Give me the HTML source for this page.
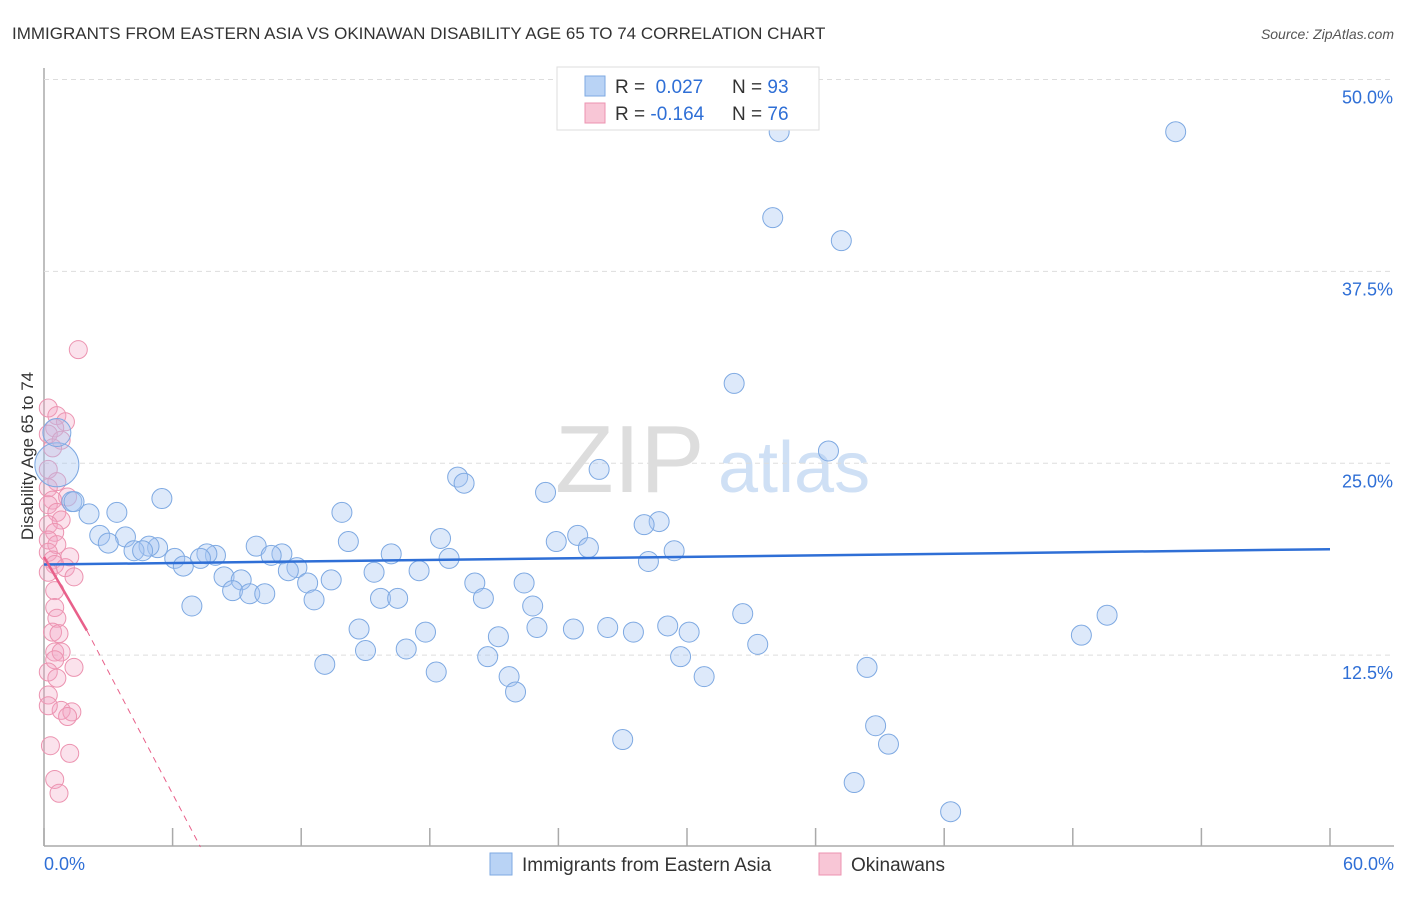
<!DOCTYPE html>
<html><head><meta charset="utf-8"><style>
body{margin:0;background:#fff;font-family:"Liberation Sans",sans-serif;}
svg text{font-family:"Liberation Sans",sans-serif;}
</style></head><body>
<svg id="c" width="1406" height="892" xmlns="http://www.w3.org/2000/svg">
<text x="12" y="39" font-size="17" fill="#333">IMMIGRANTS FROM EASTERN ASIA VS OKINAWAN DISABILITY AGE 65 TO 74 CORRELATION CHART</text>
<text x="1394" y="39" font-size="14" fill="#555" font-style="italic" text-anchor="end">Source: ZipAtlas.com</text>
<text transform="translate(33,456) rotate(-90)" font-size="17" fill="#333" text-anchor="middle">Disability Age 65 to 74</text>
<g><text x="555" y="492" font-size="96" font-family="Liberation Serif,serif" fill="#ddd">ZIP</text><text x="718" y="492" font-size="72" fill="#cfe0f5">atlas</text></g>
<g id="grid"></g><g id="pts"></g><g id="lines"></g>
<g>
<rect x="557" y="67" width="262" height="63" fill="#fff" stroke="#ddd"/>
<rect x="585" y="76" width="20" height="20" fill="#b9d3f5" stroke="#7ea9e2"/>
<rect x="585" y="103" width="20" height="20" fill="#f8c6d6" stroke="#ec93b0"/>
<text x="615" y="93" font-size="19" fill="#333">R = <tspan fill="#2f6fd6">&#160;0.027</tspan><tspan x="732">N = </tspan><tspan fill="#2f6fd6">93</tspan></text>
<text x="615" y="120" font-size="19" fill="#333">R = <tspan fill="#2f6fd6">-0.164</tspan><tspan x="732">N = </tspan><tspan fill="#2f6fd6">76</tspan></text>
</g>
<g>
<rect x="490" y="853" width="22" height="22" fill="#b9d3f5" stroke="#7ea9e2"/>
<text x="522" y="871" font-size="19" fill="#333">Immigrants from Eastern Asia</text>
<rect x="819" y="853" width="22" height="22" fill="#f8c6d6" stroke="#ec93b0"/>
<text x="851" y="871" font-size="19" fill="#333">Okinawans</text>
</g>
<text x="44" y="870" font-size="18" fill="#2f6fd6">0.0%</text>
<text x="1394" y="870" font-size="18" fill="#2f6fd6" text-anchor="end">60.0%</text>
</svg>
<script>
const yTicks=[12.5,25,37.5,50];
const yTickLabels=["12.5%","25.0%","37.5%","50.0%"];
const xTicks=[0,6,12,18,24,30,36,42,48,54,60];
const blueX=[34.3,52.8,34.0,37.2,32.2,36.6,25.9,19.3,19.6,23.4,5.5,1.3,3.4,2.1,13.9,28.7,28.0,2.6,3.8,24.9,18.5,3.0,23.9,14.2,25.4,5.3,4.9,4.2,4.6,9.9,11.1,10.6,16.2,8.0,7.6,7.3,6.1,29.4,18.9,28.2,6.5,11.8,11.4,17.5,8.4,15.4,9.2,13.4,12.3,20.1,22.4,8.8,9.6,10.3,15.7,16.5,20.5,12.6,6.9,22.8,32.6,49.6,14.7,23.0,24.7,26.3,29.1,27.5,17.8,30.1,21.2,48.4,33.3,16.9,15.0,20.7,29.7,13.1,38.4,18.3,21.7,30.8,22.0,38.8,27.0,39.4,37.8,42.3,0.6,0.6,1.4];
const blueY=[46.6,46.6,41.0,39.5,30.2,25.8,24.6,24.1,23.7,23.1,22.7,22.5,21.8,21.7,21.8,21.2,21.0,20.3,20.2,20.3,20.1,19.8,19.9,19.9,19.5,19.5,19.6,19.3,19.3,19.6,19.1,19.0,19.1,19.0,19.1,18.8,18.8,19.3,18.8,18.6,18.3,18.2,18.0,18.0,17.6,17.9,17.4,17.4,17.2,17.2,17.2,16.7,16.5,16.5,16.2,16.2,16.2,16.1,15.7,15.7,15.2,15.1,14.2,14.3,14.2,14.3,14.4,14.0,14.0,14.0,13.7,13.8,13.2,12.9,12.8,12.4,12.4,11.9,11.7,11.4,11.1,11.1,10.1,7.9,7.0,6.7,4.2,2.3,24.9,27.0,22.5];
const pinkX=[1.6,0.2,0.6,1.0,0.5,0.2,0.8,0.4,0.2,0.6,0.2,1.1,0.4,0.2,0.6,0.8,0.2,0.5,0.2,0.6,0.2,1.2,0.4,0.5,1.0,0.2,1.4,0.5,0.5,0.6,0.4,0.7,0.5,0.8,0.5,1.4,0.2,0.6,0.2,0.8,1.3,0.2,1.1,0.3,1.2,0.5,0.7];
const pinkY=[32.4,28.6,28.1,27.7,27.3,26.9,26.5,26.0,24.6,23.8,23.4,22.8,22.6,22.3,21.8,21.3,21.0,20.5,20.0,19.7,19.2,18.9,18.7,18.4,18.2,17.9,17.6,16.7,15.6,14.9,14.0,13.9,12.7,12.7,12.2,11.7,11.4,11.0,9.9,8.9,8.8,9.2,8.5,6.6,6.1,4.4,3.5];
const blueTrendX=[0,60],blueTrendY=[18.4,19.4];
const pinkTrendX=[0,2.0,7.3],pinkTrendY=[18.9,14.1,0];
const NS="http://www.w3.org/2000/svg";
const X=v=>44+v*(1286/60), Y=v=>847-v*15.35;
function mk(tag,attrs,parent){const e=document.createElementNS(NS,tag);for(const k in attrs)e.setAttribute(k,attrs[k]);document.getElementById(parent).appendChild(e);return e;}
let e;
e=mk('line',{x1:44,y1:68,x2:44,y2:846,stroke:'#aaa','stroke-width':1.5},'grid');


e=mk('line',{x1:44,y1:846,x2:1394,y2:846,stroke:'#aaa','stroke-width':1.5},'grid');


yTicks.forEach((t,i)=>{
 e=mk('line',{x1:44,x2:1394,y1:Y(t),y2:Y(t),stroke:'#ddd','stroke-dasharray':'5,4'},'grid');
 
 
 e=mk('text',{x:1393,y:Y(t)+24,'font-size':18,fill:'#2f6fd6','text-anchor':'end'},'grid');
 e.textContent=yTickLabels[i];
 
 
});
xTicks.forEach(t=>{
 e=mk('line',{x1:X(t),x2:X(t),y1:828,y2:846,stroke:'#aaa','stroke-width':1.5},'grid');
 
 
});
pinkX.forEach((x,i)=>{
 e=mk('circle',{cx:X(x),cy:Y(pinkY[i]),r:9,fill:'rgba(244,165,195,0.32)',stroke:'#ec93b0','stroke-width':1},'pts');
 
 
});
blueX.forEach((x,i)=>{
 const r=i==blueX.length-3?22:(i==blueX.length-2?14:10);
 e=mk('circle',{cx:X(x),cy:Y(blueY[i]),r:r,fill:'rgba(165,198,242,0.38)',stroke:'#7ea9e2','stroke-width':1},'pts');
 
 
});
e=mk('line',{x1:X(blueTrendX[0]),y1:Y(blueTrendY[0]),x2:X(blueTrendX[1]),y2:Y(blueTrendY[1]),stroke:'#2f6fd6','stroke-width':2.5},'lines');


e=mk('line',{x1:X(pinkTrendX[0]),y1:Y(pinkTrendY[0]),x2:X(pinkTrendX[1]),y2:Y(pinkTrendY[1]),stroke:'#e8608a','stroke-width':2.5},'lines');


e=mk('line',{x1:X(pinkTrendX[1]),y1:Y(pinkTrendY[1]),x2:X(pinkTrendX[2]),y2:Y(pinkTrendY[2]),stroke:'#e8608a','stroke-width':1,'stroke-dasharray':'6,5'},'lines');


</script>
</body></html>
